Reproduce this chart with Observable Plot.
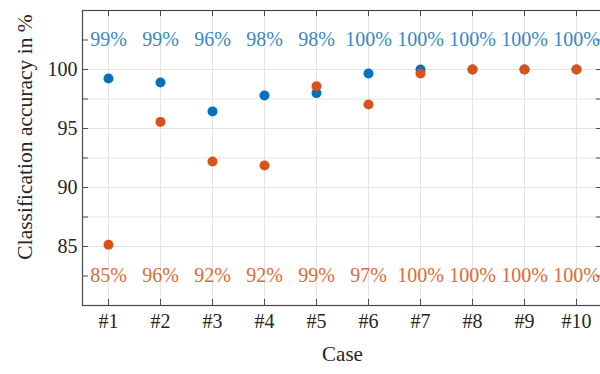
<!DOCTYPE html>
<html>
<head>
<meta charset="utf-8">
<script src="https://cdn.jsdelivr.net/npm/d3@7"></script>
<script src="https://cdn.jsdelivr.net/npm/@observablehq/plot@0.6"></script>
<style>
  html, body { margin: 0; padding: 0; background: #fff; overflow: hidden; }
  svg { display: block; }
</style>
</head>
<body>
<div id="chart"></div>
<script>
const cases = ["#1", "#2", "#3", "#4", "#5", "#6", "#7", "#8", "#9", "#10"];
const blueValues = [99.24, 98.9, 96.45, 97.8, 98.0, 99.66, 100, 100, 100, 100];
const orangeValues = [85.15, 95.56, 92.2, 91.86, 98.58, 97.03, 99.66, 100, 100, 100];
const blueLabels = ["99%", "99%", "96%", "98%", "98%", "100%", "100%", "100%", "100%", "100%"];
const orangeLabels = ["85%", "96%", "92%", "92%", "99%", "97%", "100%", "100%", "100%", "100%"];
const yMajorTicks = [85, 90, 95, 100];
const yMinorTicks = [82.5, 87.5, 92.5, 97.5, 102.5];
const yGridLines = [85, 87.5, 90, 92.5, 95, 97.5, 100];
const xTitle = "Case";
const yTitle = "Classification accuracy in %";

const blue = "#0072BD", orange = "#D95319";
const blueText = "#3a87c5", orangeText = "#dd6a38";
const font = "'Liberation Serif', 'Times New Roman', serif";

const blueData = cases.map((c, i) => ({case: c, value: blueValues[i], label: blueLabels[i]}));
const orangeData = cases.map((c, i) => ({case: c, value: orangeValues[i], label: orangeLabels[i]}));

const mL = 82, mT = 10, mB = 69, mR = -2, W = 600, H = 374;
const fw = W - mL - mR, fh = H - mT - mB;
const axisColor = "#4a4a4a", gridColor = "#e3e3e3", tickText = "#262626";
const yTickAll = yMajorTicks.concat(yMinorTicks.filter(v => v > 80 && v < 105));

const chart = Plot.plot({
  width: W, height: H,
  marginLeft: mL, marginRight: mR, marginTop: mT, marginBottom: mB,
  style: {fontFamily: font, fontSize: "20px", background: "#fff", overflow: "visible"},
  x: {type: "point", domain: cases, padding: 0.5, axis: null},
  y: {domain: [80, 105], axis: null},
  marks: [
    Plot.gridY(yGridLines, {stroke: gridColor, strokeOpacity: 1}),
    Plot.gridX(cases, {stroke: gridColor, strokeOpacity: 1}),
    Plot.frame({stroke: axisColor, strokeWidth: 1.2}),
    // ticks, pointing inward (left, right, bottom, top)
    Plot.tickY(yTickAll, {y: d => d, stroke: axisColor, insetRight: fw - 6}),
    Plot.tickY(yTickAll, {y: d => d, stroke: axisColor, insetLeft: fw - 6}),
    Plot.tickX(cases, {x: d => d, stroke: axisColor, insetTop: fh - 6}),
    Plot.tickX(cases, {x: d => d, stroke: axisColor, insetBottom: fh - 6}),
    // tick labels
    Plot.text(yMajorTicks, {y: d => d, frameAnchor: "left", dx: -5, textAnchor: "end", text: d => String(d), fill: tickText, fontSize: 20}),
    Plot.text(cases, {x: d => d, frameAnchor: "bottom", dy: 22, text: d => d, fill: tickText, fontSize: 20}),
    // axis titles
    Plot.text([xTitle], {frameAnchor: "bottom", dy: 55, text: d => d, fill: tickText, fontSize: 21}),
    Plot.text([yTitle], {frameAnchor: "left", textAnchor: "middle", dx: -57, dy: -21, rotate: -90, text: d => d, fill: tickText, fontSize: 21.5}),
    // points
    Plot.dot(blueData, {x: "case", y: "value", r: 5, fill: blue, stroke: "none"}),
    Plot.dot(orangeData, {x: "case", y: "value", r: 5, fill: orange, stroke: "none"}),
    // value labels
    Plot.text(blueData, {x: "case", y: () => 102.5, text: "label", fill: blueText, fontSize: 20}),
    Plot.text(orangeData, {x: "case", y: () => 82.5, text: "label", fill: orangeText, fontSize: 20})
  ]
});
document.getElementById("chart").appendChild(chart);
</script>
</body>
</html>
